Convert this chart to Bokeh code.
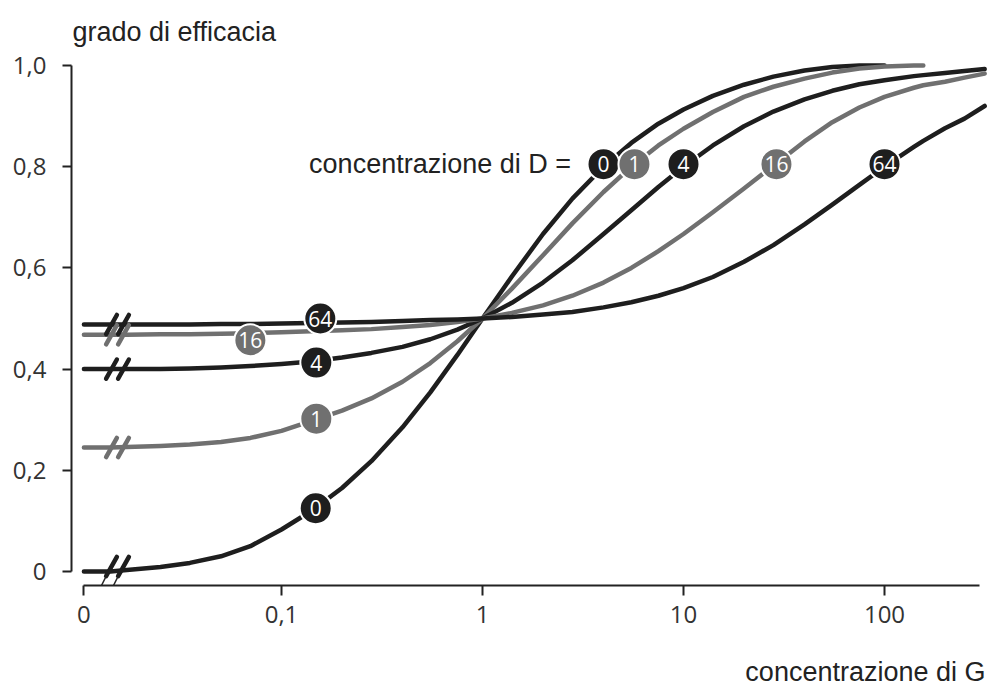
import math
from bokeh.plotting import figure
from bokeh.models import Range1d, FixedTicker, Label, Arrow, ColumnDataSource, Title
from bokeh.core.properties import value
from bokeh.embed import file_html
from bokeh.resources import INLINE

# ---------------- data ----------------
# concentration of G (the first value is where the axis shows "0")
g_conc = [0.0104, 0.0141, 0.017, 0.025, 0.035, 0.05, 0.07, 0.1, 0.14, 0.2,
          0.28, 0.4, 0.55, 0.75, 1.0, 1.4, 2.0, 2.8, 4.0, 5.5,
          7.5, 10, 14, 20, 28, 40, 55, 75, 100, 140,
          156, 200, 250, 315]

eff_d0 = [0.0, 0.0, 0.003, 0.009, 0.017, 0.030, 0.050, 0.083, 0.119, 0.165,
          0.218, 0.285, 0.354, 0.428, 0.5, 0.583, 0.667, 0.737, 0.800, 0.847,
          0.885, 0.913, 0.940, 0.962, 0.978, 0.990, 0.997, 1.0, 1.0]
eff_d1 = [0.245, 0.245, 0.246, 0.248, 0.251, 0.256, 0.264, 0.278, 0.297, 0.318,
          0.342, 0.375, 0.412, 0.455, 0.5, 0.559, 0.625, 0.688, 0.750, 0.800,
          0.842, 0.875, 0.908, 0.938, 0.958, 0.974, 0.986, 0.994, 0.998, 1.0,
          1.0]
eff_d4 = [0.400, 0.400, 0.400, 0.400, 0.401, 0.403, 0.406, 0.410, 0.415, 0.423,
          0.432, 0.444, 0.459, 0.478, 0.5, 0.531, 0.571, 0.615, 0.667, 0.714,
          0.760, 0.800, 0.842, 0.880, 0.909, 0.933, 0.950, 0.963, 0.971, 0.979,
          0.981, 0.985, 0.989, 0.993]
eff_d16 = [0.468, 0.468, 0.468, 0.469, 0.469, 0.470, 0.471, 0.473, 0.475, 0.477,
           0.479, 0.483, 0.487, 0.493, 0.5, 0.511, 0.526, 0.545, 0.571, 0.600,
           0.633, 0.667, 0.710, 0.757, 0.802, 0.850, 0.888, 0.917, 0.938, 0.956,
           0.961, 0.968, 0.976, 0.984]
eff_d64 = [0.488, 0.488, 0.488, 0.488, 0.488, 0.489, 0.489, 0.490, 0.491, 0.492,
           0.493, 0.495, 0.497, 0.498, 0.5, 0.503, 0.508, 0.513, 0.522, 0.532,
           0.545, 0.560, 0.582, 0.612, 0.645, 0.686, 0.725, 0.764, 0.800, 0.839,
           0.851, 0.876, 0.895, 0.920]

d_levels = ["0", "1", "4", "16", "64"]
label_low_g = [0.148, 0.149, 0.149, 0.070, 0.156]
label_low_y = [0.125, 0.302, 0.413, 0.457, 0.500]
label_high_g = [4.0, 5.7, 10.0, 29.0, 100.0]
label_high_y = [0.805, 0.805, 0.805, 0.805, 0.805]

x_tick_vals = [0.0104, 0.1, 1, 10, 100]
x_tick_labels = ["0", "0,1", "1", "10", "100"]
y_tick_vals = [0, 0.2, 0.4, 0.6, 0.8, 1.0]
y_tick_labels = ["0", "0,2", "0,4", "0,6", "0,8", "1,0"]

# ---------------- styling / layout constants ----------------
BLACK = "#1e1e1e"
GREY = "#707070"
curve_colors = [BLACK, GREY, BLACK, GREY, BLACK]
TEXT = "#222222"

PX_DEC = 201.0          # pixels per decade on x
PX_UNIT = 506.0         # pixels per unit on y
X0_PX, Y0_PX = 482.0, 571.0   # pixel of G=1 and of efficacy 0 (page coords)


def gx(px):
    return 10 ** ((px - X0_PX) / PX_DEC)


def vy(py):
    return (Y0_PX - py) / PX_UNIT


p = figure(frame_width=916, frame_height=577, x_axis_type="log",
           x_range=Range1d(gx(71), gx(987)), y_range=Range1d(vy(585), vy(8)),
           output_backend="svg", toolbar_location=None,
           min_border_left=71, min_border_right=3, min_border_top=8,
           min_border_bottom=20)
p.title.visible = False
p.outline_line_color = None
p.grid.visible = False
p.background_fill_color = "white"
p.border_fill_color = "white"

xa = p.xaxis[0]
ya = p.yaxis[0]
xa.ticker = FixedTicker(ticks=x_tick_vals)
xa.major_label_overrides = dict(zip(x_tick_vals, x_tick_labels))
xa.bounds = (x_tick_vals[0], gx(979))
ya.ticker = FixedTicker(ticks=y_tick_vals)
ya.major_label_overrides = dict(zip(y_tick_vals, y_tick_labels))
ya.bounds = (0, 1)
for ax in (xa, ya):
    ax.axis_line_width = 2
    ax.axis_line_color = TEXT
    ax.major_tick_line_width = 2
    ax.major_tick_line_color = TEXT
    ax.major_tick_in = 0
    ax.minor_tick_in = 0
    ax.minor_tick_out = 0
    ax.major_label_text_font = "Open Sans"
    ax.major_label_text_font_size = "24px"
    ax.major_label_text_color = "#333333"
xa.major_tick_out = 10
ya.major_tick_out = 9
xa.major_label_standoff = 10
ya.major_label_standoff = 16

# x-axis title, right-aligned under the axis
p.add_layout(Title(text="concentrazione di G", align="right",
                   text_font="Liberation Sans", text_font_size="27px",
                   text_font_style="normal", text_color=TEXT,
                   standoff=58, offset=2), "below")

# ---------------- curves ----------------
series = [eff_d0, eff_d1, eff_d4, eff_d16, eff_d64]
for ys, col in zip(series, curve_colors):
    p.line(g_conc[:len(ys)], ys, line_color=col, line_width=4.5,
           line_cap="round", line_join="round")

# break marks "//" on each curve
BREAK_PX = [111, 123]
for i, (ys, col) in enumerate(zip(series, curve_colors)):
    lvl = ys[0] + (0.01 if i == 0 else 0.0)
    p.scatter([gx(BREAK_PX[0]), gx(BREAK_PX[1])], [lvl, lvl], marker="dash",
              size=22, angle=1.06, line_color=col, line_width=4.5,
              line_cap="round")
# thin continuation of the lowest break marks across the x axis
for bx in BREAK_PX:
    p.add_layout(Arrow(x_start=gx(bx - 5), y_start=vy(575),
                       x_end=gx(bx - 15), y_end=vy(595),
                       start=None, end=None, line_width=1.5,
                       line_color=TEXT))

# ---------------- numbered circles ----------------
src = ColumnDataSource(dict(
    x=label_low_g + label_high_g,
    y=label_low_y + label_high_y,
    t=d_levels + d_levels,
    c=curve_colors + curve_colors,
))
p.scatter("x", "y", source=src, marker="circle", size=32, fill_color="c",
          line_color="white", line_width=2)
p.text("x", "y", text="t", source=src, text_color="white",
       text_font=value("Open Sans"), text_font_size="21px",
       text_align="center", text_baseline="middle")

# ---------------- texts ----------------
p.add_layout(Label(x=gx(72), y=vy(31), text="grado di efficacia",
                   text_font="Liberation Sans", text_font_size="27px",
                   text_color=TEXT, text_baseline="alphabetic"))
p.add_layout(Label(x=gx(578), y=label_high_y[0], text="concentrazione di D  =",
                   text_font="Liberation Sans", text_font_size="27px",
                   text_color=TEXT, text_align="right",
                   text_baseline="middle"))

open("out.html", "w").write(file_html(p, INLINE))
